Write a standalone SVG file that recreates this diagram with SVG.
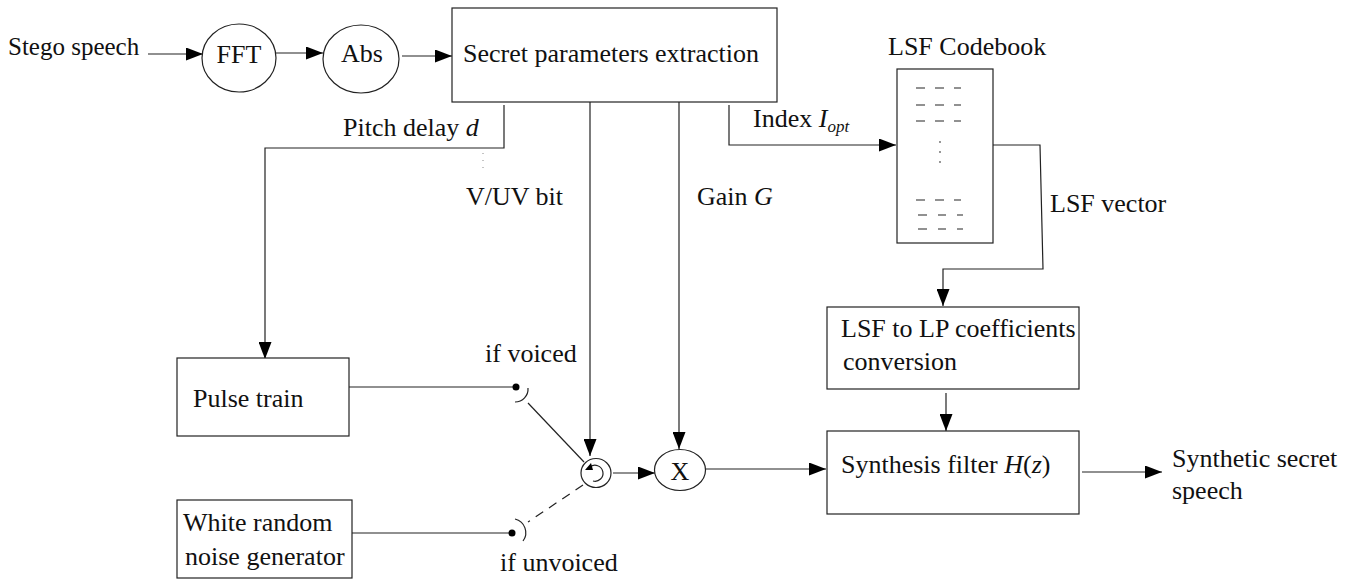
<svg xmlns="http://www.w3.org/2000/svg" width="1351" height="579" viewBox="0 0 1351 579">
<defs>
<style>
.t{font-family:"Liberation Serif","Times New Roman",serif;font-size:26px;fill:#111}
.i{font-style:italic}
.sub{font-size:17px}
.s{fill:none;stroke:#222;stroke-width:1.2}
.b{fill:#fff;stroke:#222;stroke-width:1.2}
.dash{stroke:#555;stroke-width:1.3}
</style>
<marker id="ar" viewBox="0 0 17 13" refX="17" refY="6.5" markerWidth="17" markerHeight="13" markerUnits="userSpaceOnUse" orient="auto">
<path d="M0,0 L17,6.5 L0,13 z" fill="#000"/>
</marker>
</defs>
<rect width="1351" height="579" fill="#fff"/>

<g id="connectors">
<line class="s" x1="148" y1="54" x2="203" y2="54" marker-end="url(#ar)"/>
<line class="s" x1="276" y1="53" x2="323" y2="53" marker-end="url(#ar)"/>
<line class="s" x1="402" y1="56" x2="452" y2="56" marker-end="url(#ar)"/>
<polyline class="s" points="504,105 504,148 265,148 265,359" marker-end="url(#ar)"/>
<line x1="483" y1="153" x2="483" y2="169" stroke="#888" stroke-width="1" stroke-dasharray="1,6"/>
<line class="s" x1="590" y1="102" x2="590" y2="456" marker-end="url(#ar)"/>
<line class="s" x1="679" y1="102" x2="679" y2="449" marker-end="url(#ar)"/>
<polyline class="s" points="729,105 729,145 896,145" marker-end="url(#ar)"/>
<polyline class="s" points="993,145 1040,145 1043,269 943,269 943,306" marker-end="url(#ar)"/>
<line class="s" x1="946" y1="393" x2="946" y2="431" marker-end="url(#ar)"/>
<line class="s" x1="349" y1="387" x2="516" y2="387"/>
<line class="s" x1="352" y1="533" x2="512" y2="533"/>
<line class="s" x1="528" y1="403" x2="584" y2="462"/>
<line class="s" x1="583" y1="485" x2="528" y2="522" stroke-dasharray="9,7"/>
<line class="s" x1="613" y1="473" x2="655" y2="473" marker-end="url(#ar)"/>
<line class="s" x1="706" y1="469" x2="826" y2="469" marker-end="url(#ar)"/>
<line class="s" x1="1082" y1="472" x2="1162" y2="472" marker-end="url(#ar)"/>
</g>

<g id="stego-label"><text class="t" x="8" y="55" style="font-size:25px">Stego speech</text></g>

<g id="fft">
<ellipse class="b" cx="239" cy="58" rx="37" ry="34"/>
<text class="t" x="239" y="63" text-anchor="middle">FFT</text>
</g>
<g id="abs">
<ellipse class="b" cx="361" cy="59" rx="38" ry="34"/>
<text class="t" x="362" y="62" text-anchor="middle">Abs</text>
</g>

<g id="extraction">
<rect class="b" x="452" y="8" width="325" height="94"/>
<text class="t" x="463" y="62">Secret parameters extraction</text>
</g>

<g id="labels">
<text class="t" x="343" y="136">Pitch delay <tspan class="i">d</tspan></text>
<text class="t" x="466" y="205">V/UV bit</text>
<text class="t" x="697" y="205">Gain <tspan class="i">G</tspan></text>
<text class="t" x="753" y="127">Index <tspan class="i">I</tspan><tspan class="i sub" dy="5">opt</tspan></text>
<text class="t" x="1050" y="212">LSF vector</text>
<text class="t" x="485" y="362">if voiced</text>
<text class="t" x="500" y="571">if unvoiced</text>
</g>

<g id="codebook">
<text class="t" x="888" y="55">LSF Codebook</text>
<rect class="b" x="897" y="69" width="96" height="174"/>
<g class="dash">
<line x1="916" y1="88" x2="925" y2="88"/><line x1="935" y1="88" x2="944" y2="88"/><line x1="954" y1="88" x2="961" y2="88"/>
<line x1="916" y1="105" x2="925" y2="105"/><line x1="935" y1="105" x2="944" y2="105"/><line x1="954" y1="105" x2="961" y2="105"/>
<line x1="916" y1="121" x2="925" y2="121"/><line x1="935" y1="121" x2="944" y2="121"/><line x1="954" y1="121" x2="961" y2="121"/>
<line x1="916" y1="200" x2="925" y2="200"/><line x1="935" y1="200" x2="944" y2="200"/><line x1="954" y1="200" x2="961" y2="200"/>
<line x1="918" y1="215" x2="927" y2="215"/><line x1="938" y1="215" x2="946" y2="215"/><line x1="957" y1="215" x2="963" y2="215"/>
<line x1="918" y1="229" x2="927" y2="229"/><line x1="938" y1="229" x2="946" y2="229"/><line x1="957" y1="229" x2="963" y2="229"/>
</g>
<circle cx="940" cy="142" r="0.9" fill="#666"/>
<circle cx="940" cy="152" r="0.9" fill="#666"/>
<circle cx="940" cy="162" r="0.9" fill="#666"/>
</g>

<g id="lsf-to-lp">
<rect class="b" x="827" y="307" width="252" height="82"/>
<text class="t" x="841" y="337">LSF to LP coefficients</text>
<text class="t" x="843" y="370">conversion</text>
</g>

<g id="synthesis">
<rect class="b" x="827" y="431" width="252" height="83"/>
<text class="t" x="841" y="473">Synthesis filter <tspan class="i">H</tspan>(<tspan class="i">z</tspan>)</text>
</g>

<g id="output-label">
<text class="t" x="1172" y="467">Synthetic secret</text>
<text class="t" x="1172" y="499">speech</text>
</g>

<g id="pulse-train">
<rect class="b" x="177" y="358" width="172" height="78"/>
<text class="t" x="193" y="407">Pulse train</text>
</g>

<g id="noise-gen">
<rect class="b" x="177" y="500" width="175" height="78"/>
<text class="t" x="183" y="531">White random</text>
<text class="t" x="185" y="565">noise generator</text>
</g>

<g id="voiced-contact">
<circle cx="516" cy="387" r="3.5" fill="#000"/>
<path class="s" d="M 528 388 A 13 13 0 0 1 515 402"/>
</g>
<g id="unvoiced-contact">
<circle cx="512" cy="533" r="3.5" fill="#000"/>
<path class="s" d="M 515 519 A 14 14 0 0 1 523 541"/>
</g>

<g id="switch">
<ellipse class="b" cx="596" cy="473" rx="15" ry="14.5"/>
<path class="s" d="M 593 481 A 8 8 0 1 0 590 467"/>
<path d="M 585 470 L 591 463 L 593 470 z" fill="#000"/>
</g>

<g id="multiplier">
<ellipse class="b" cx="680" cy="470" rx="25.5" ry="20.5"/>
<text class="t" x="680" y="480" text-anchor="middle">X</text>
</g>
</svg>
